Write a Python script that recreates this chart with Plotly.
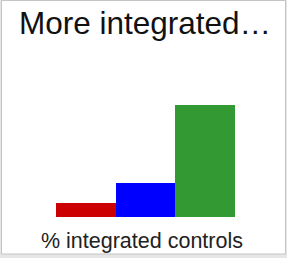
import plotly.graph_objects as go

categories = ["Low", "Medium", "High"]
values = [12.5, 30.5, 100]
colors = ["#cc0000", "#0000ff", "#339933"]
title_text = "More integrated…"
xlabel_text = "% integrated controls"

W, H = 287, 258
L, R, T, B = 56, 52, 60, 41
pw, ph = W - L - R, H - T - B

def px_x(p):
    return (p - L) / pw

def px_y(p):
    return (H - B - p) / ph

fig = go.Figure(go.Bar(x=categories, y=values, marker=dict(color=colors, line=dict(width=0)),
                       hoverinfo="skip"))

fig.update_layout(
    width=W, height=H,
    margin=dict(l=L, r=R, t=T, b=B, pad=0),
    paper_bgcolor="#e6e6e6",
    plot_bgcolor="rgba(0,0,0,0)",
    bargap=0,
    showlegend=False,
    xaxis=dict(visible=False, range=[-0.5, 2.5]),
    yaxis=dict(visible=False, range=[0, 140.6]),
    shapes=[
        dict(type="rect", xref="paper", yref="paper", layer="below",
             x0=px_x(1.5), x1=px_x(285.5), y0=px_y(254), y1=px_y(0.5),
             fillcolor="white", line=dict(color="#c4c4c4", width=1)),
    ],
    annotations=[
        dict(text=title_text, xref="paper", yref="paper", x=px_x(17), y=px_y(3),
             xanchor="left", yanchor="top", showarrow=False,
             font=dict(family="Liberation Sans, Arial", size=31.5, color="#111111")),
        dict(text=xlabel_text, xref="paper", yref="paper", x=px_x(141.5), y=px_y(226.5),
             xanchor="center", yanchor="top", showarrow=False,
             font=dict(family="Liberation Sans, Arial", size=21.5, color="#222222")),
    ],
)

fig.write_html("out.html", config={"displayModeBar": False, "staticPlot": True},
               post_script="document.body.style.margin='0';document.body.style.overflow='hidden';")
